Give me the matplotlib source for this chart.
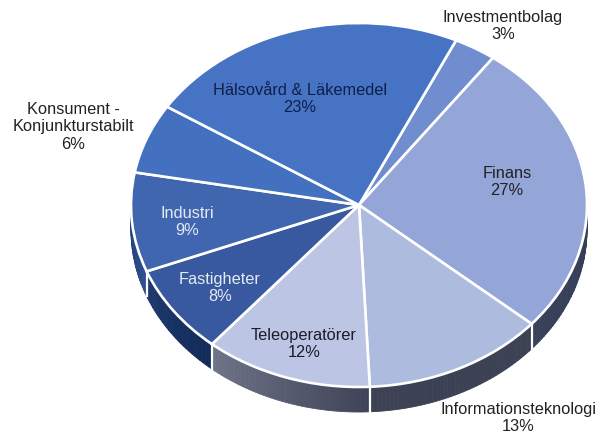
import numpy as np
import matplotlib
matplotlib.use("Agg")
import matplotlib.pyplot as plt
from matplotlib.colors import to_rgb

plt.rcParams['font.family'] = ['Liberation Sans', 'DejaVu Sans']

W, H = 612, 435
CX, CY, RX, RY = 359, 206, 228, 182
DEPTH = 25 / RY

# data
names = ["Investmentbolag", "Finans", "Informationsteknologi", "Teleoperatörer",
         "Fastigheter", "Industri", "Konsument -\nKonjunkturstabilt", "Hälsovård & Läkemedel"]
shares = [3, 27, 13, 12, 8, 9, 6, 23]
# slice sizes as measured on the picture, the printed labels are rounded
slice_sizes = [3.0, 26.3, 12.9, 11.9, 7.9, 8.8, 6.2, 22.9]
top_colors = ["#6f8dcf", "#94a6d8", "#adbbdf", "#bcc6e4", "#38589f", "#3f66ae", "#4470c0", "#4673c4"]
wall_from = ["#3c4560", "#2f3752", "#3c4254", "#3f4358", "#122a58", "#2c4f8c", "#4470c0", "#4673c4"]
wall_to = ["#3c4560", "#39415a", "#3c4254", "#70758a", "#1f3a70", "#1f3a70", "#4470c0", "#4673c4"]
label_colors = ["#222222", "#222222", "#222222", "#1c1c28", "#e4eaf4", "#e4eaf4", "#222222", "#0f1f4a"]
label_xy = [(503, 26), (507, 182), (518, 418), (304, 344), (220, 288), (187, 222), (73, 127), (300, 99)]

START = 64.8

fig = plt.figure(figsize=(W / 100, H / 100), dpi=100)
ax = fig.add_axes([0, 0, 1, 1])

# side wall, slice by slice, thin steps so the shade can run along the rim
total = sum(slice_sizes)
bounds = START - np.cumsum([0] + slice_sizes) * 360 / total
for i in range(len(slice_sizes)):
    a0, a1 = bounds[i], bounds[i + 1]
    steps = max(int(a0 - a1), 1)
    edges = np.linspace(a0, a1, steps + 1)
    c0, c1 = np.array(to_rgb(wall_from[i])), np.array(to_rgb(wall_to[i]))
    for k in range(steps):
        c = c0 + (c1 - c0) * k / steps
        t = np.radians(np.linspace(edges[k], edges[k + 1], 4))
        xs = np.cos(t)
        ys = np.sin(t)
        ax.fill(np.r_[xs, xs[::-1]], np.r_[ys, ys[::-1] - DEPTH], color=c, lw=0.6, zorder=1)

# white seams on the wall
for a in bounds[:-1]:
    t = np.radians(a)
    if np.sin(t) < 0:
        ax.plot([np.cos(t)] * 2, [np.sin(t), np.sin(t) - DEPTH], color="white", lw=1.6, zorder=2)

wedges, _ = ax.pie(slice_sizes, startangle=START, counterclock=False, colors=top_colors, radius=1,
                   wedgeprops=dict(edgecolor="white", linewidth=1.9, zorder=3))

ax.set_aspect("auto")
ax.set_xlim(-CX / RX, (W - CX) / RX)
ax.set_ylim(-(H - CY) / RY, CY / RY)
ax.axis("off")

for name, share, col, (x, y) in zip(names, shares, label_colors, label_xy):
    ax.text(x / W, 1 - y / H, f"{name}\n{share}%", transform=ax.transAxes, ha="center", va="center",
            fontsize=11.8, color=col, linespacing=1.2, zorder=5)

fig.savefig("out.png", dpi=100)
